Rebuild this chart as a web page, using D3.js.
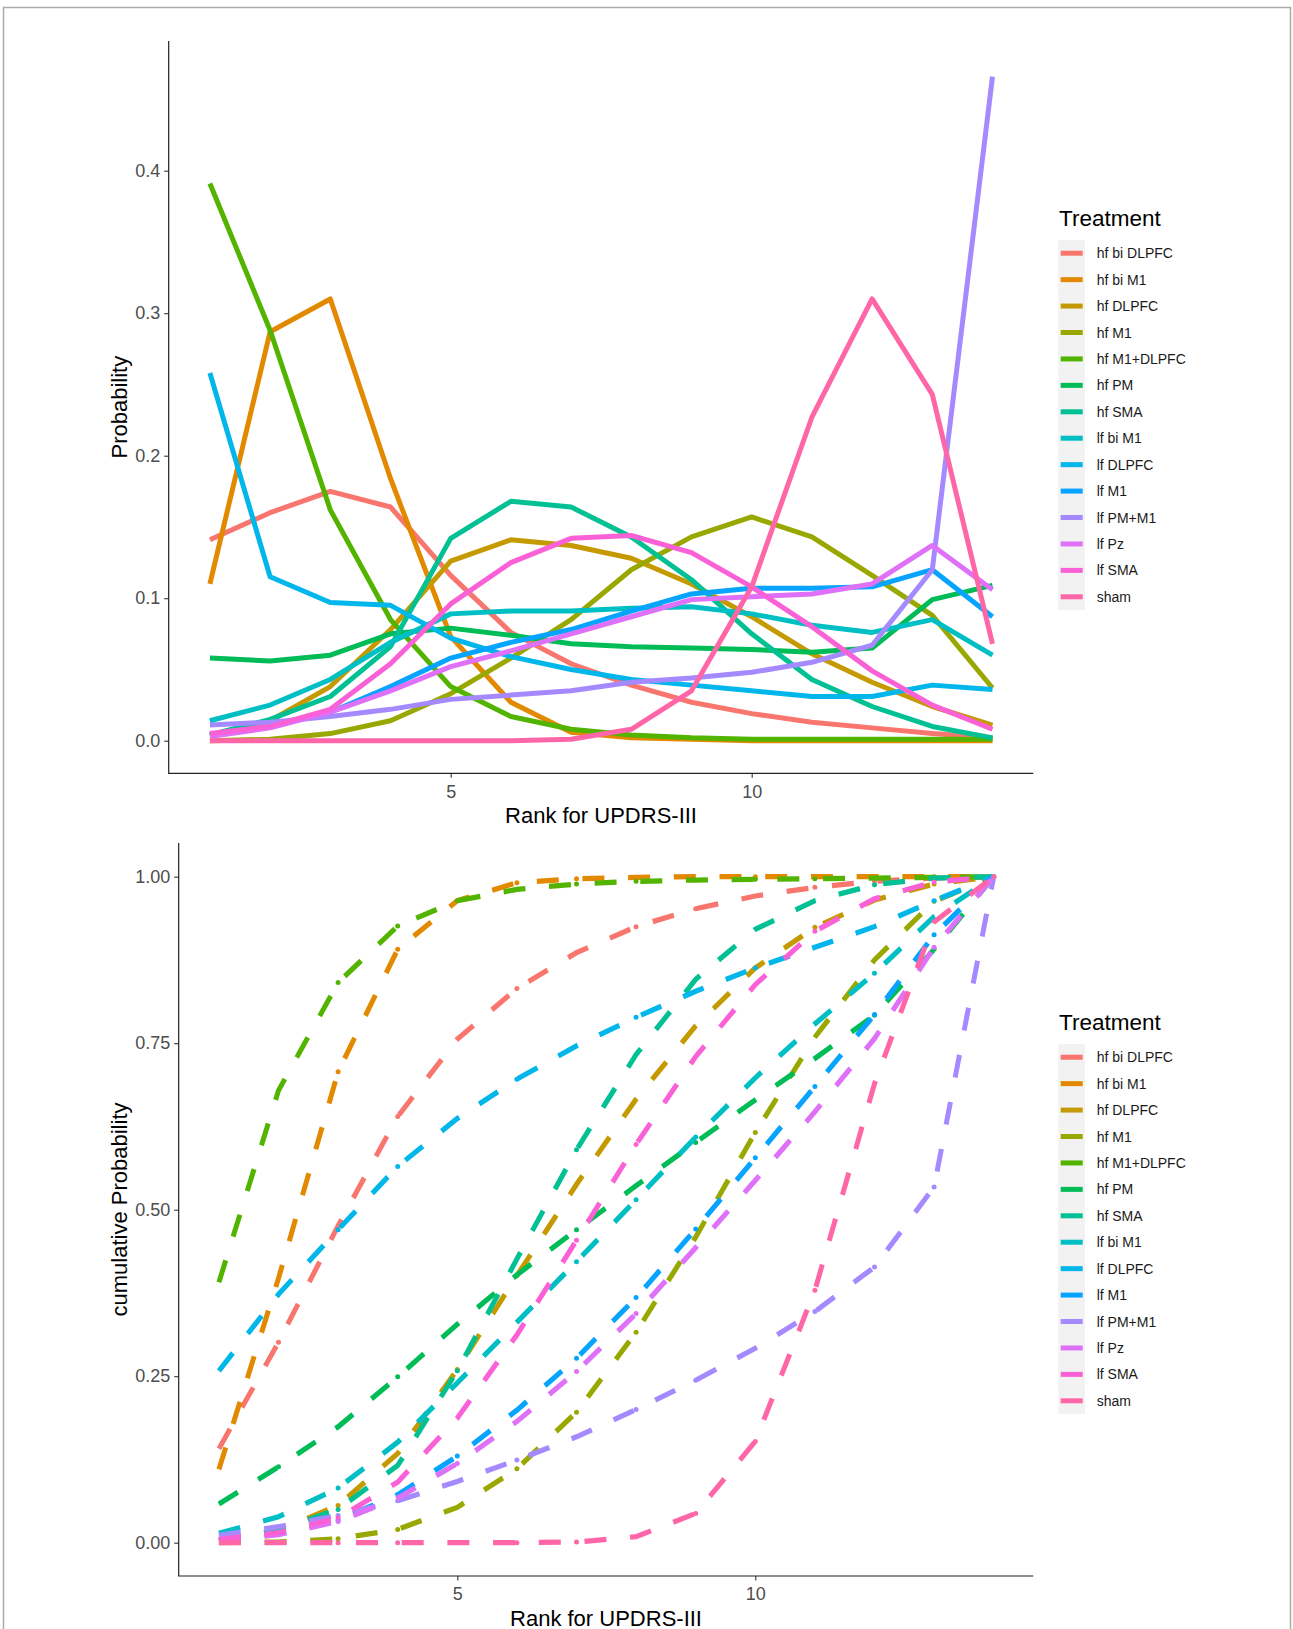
<!DOCTYPE html>
<html>
<head>
<meta charset="utf-8">
<script src="https://cdn.jsdelivr.net/npm/d3@7"></script>
<style>
body { margin: 0; background: #fff; }
text { font-family: "Liberation Sans", Arial, sans-serif; }
</style>
</head>
<body>
<div id="chart"></div>
<script>
//---------------------------DATA--------------------------------//
var ranks = [1, 2, 3, 4, 5, 6, 7, 8, 9, 10, 11, 12, 13, 14];
var treatments = ["hf bi DLPFC", "hf bi M1", "hf DLPFC", "hf M1", "hf M1+DLPFC", "hf PM", "hf SMA",
                  "lf bi M1", "lf DLPFC", "lf M1", "lf PM+M1", "lf Pz", "lf SMA", "sham"];

// probability of each rank
var hfBiDLPFC = [0.141, 0.160, 0.175, 0.164, 0.116, 0.076, 0.054, 0.039, 0.027, 0.019, 0.013, 0.009, 0.005, 0.002];
var hfBiM1    = [0.110, 0.287, 0.310, 0.184, 0.073, 0.027, 0.006, 0.002, 0.001, 0.000, 0.000, 0.000, 0.000, 0.000];
var hfDLPFC   = [0.004, 0.014, 0.038, 0.078, 0.126, 0.141, 0.137, 0.128, 0.110, 0.087, 0.061, 0.041, 0.024, 0.011];
var hfM1      = [0.000, 0.001, 0.005, 0.014, 0.033, 0.058, 0.085, 0.120, 0.143, 0.157, 0.143, 0.116, 0.088, 0.037];
var hfM1DLPFC = [0.391, 0.288, 0.162, 0.085, 0.038, 0.017, 0.008, 0.004, 0.002, 0.001, 0.001, 0.001, 0.001, 0.001];
var hfPM      = [0.058, 0.056, 0.060, 0.075, 0.079, 0.074, 0.068, 0.066, 0.065, 0.064, 0.062, 0.065, 0.099, 0.109];
var hfSMA     = [0.004, 0.015, 0.031, 0.066, 0.142, 0.168, 0.164, 0.143, 0.113, 0.075, 0.043, 0.024, 0.010, 0.002];
var lfBiM1    = [0.014, 0.025, 0.043, 0.069, 0.089, 0.091, 0.091, 0.093, 0.094, 0.089, 0.081, 0.076, 0.085, 0.060];
var lfDLPFC   = [0.258, 0.115, 0.097, 0.095, 0.072, 0.059, 0.050, 0.043, 0.039, 0.035, 0.031, 0.031, 0.039, 0.036];
var lfM1      = [0.004, 0.010, 0.020, 0.038, 0.058, 0.069, 0.078, 0.091, 0.103, 0.107, 0.107, 0.108, 0.120, 0.087];
var lfPMM1    = [0.011, 0.013, 0.017, 0.022, 0.029, 0.032, 0.035, 0.041, 0.044, 0.048, 0.055, 0.067, 0.120, 0.466];
var lfPz      = [0.003, 0.009, 0.020, 0.035, 0.052, 0.063, 0.075, 0.087, 0.099, 0.101, 0.103, 0.110, 0.137, 0.106];
var lfSMA     = [0.005, 0.010, 0.022, 0.054, 0.096, 0.125, 0.142, 0.144, 0.132, 0.108, 0.080, 0.049, 0.025, 0.008];
var sham      = [0.000, 0.000, 0.000, 0.000, 0.000, 0.000, 0.001, 0.008, 0.035, 0.108, 0.227, 0.310, 0.243, 0.068];

// cumulative probability
var cumHfBiDLPFC = [0.141, 0.301, 0.476, 0.640, 0.756, 0.832, 0.886, 0.925, 0.952, 0.971, 0.984, 0.993, 0.998, 1.000];
var cumHfBiM1    = [0.110, 0.397, 0.707, 0.891, 0.964, 0.991, 0.997, 0.999, 1.000, 1.000, 1.000, 1.000, 1.000, 1.000];
var cumHfDLPFC   = [0.004, 0.018, 0.056, 0.134, 0.260, 0.401, 0.538, 0.666, 0.776, 0.863, 0.924, 0.965, 0.989, 1.000];
var cumHfM1      = [0.000, 0.001, 0.006, 0.020, 0.053, 0.111, 0.196, 0.316, 0.459, 0.616, 0.759, 0.875, 0.963, 1.000];
var cumHfM1DLPFC = [0.391, 0.679, 0.841, 0.926, 0.964, 0.981, 0.989, 0.993, 0.995, 0.996, 0.997, 0.998, 0.999, 1.000];
var cumHfPM      = [0.058, 0.114, 0.174, 0.249, 0.328, 0.402, 0.470, 0.536, 0.601, 0.665, 0.727, 0.792, 0.891, 1.000];
var cumHfSMA     = [0.004, 0.019, 0.050, 0.116, 0.258, 0.426, 0.590, 0.733, 0.846, 0.921, 0.964, 0.988, 0.998, 1.000];
var cumLfBiM1    = [0.014, 0.039, 0.082, 0.151, 0.240, 0.331, 0.422, 0.515, 0.609, 0.698, 0.779, 0.855, 0.940, 1.000];
var cumLfDLPFC   = [0.258, 0.373, 0.470, 0.565, 0.637, 0.696, 0.746, 0.789, 0.828, 0.863, 0.894, 0.925, 0.964, 1.000];
var cumLfM1      = [0.004, 0.014, 0.034, 0.072, 0.130, 0.199, 0.277, 0.368, 0.471, 0.578, 0.685, 0.793, 0.913, 1.000];
var cumLfPMM1    = [0.011, 0.024, 0.041, 0.063, 0.092, 0.124, 0.159, 0.200, 0.244, 0.292, 0.347, 0.414, 0.534, 1.000];
var cumLfPz      = [0.003, 0.012, 0.032, 0.067, 0.119, 0.182, 0.257, 0.344, 0.443, 0.544, 0.647, 0.757, 0.894, 1.000];
var cumLfSMA     = [0.005, 0.015, 0.037, 0.091, 0.187, 0.312, 0.454, 0.598, 0.730, 0.838, 0.918, 0.967, 0.992, 1.000];
var cumSham      = [0.000, 0.000, 0.000, 0.000, 0.000, 0.000, 0.001, 0.009, 0.044, 0.152, 0.379, 0.689, 0.932, 1.000];

var xTicks = [5, 10];
var yTicksTop = [0, 0.1, 0.2, 0.3, 0.4];
var yTicksBottom = [0, 0.25, 0.5, 0.75, 1];

var probs = [hfBiDLPFC, hfBiM1, hfDLPFC, hfM1, hfM1DLPFC, hfPM, hfSMA, lfBiM1, lfDLPFC, lfM1, lfPMM1, lfPz, lfSMA, sham];
var cums = [cumHfBiDLPFC, cumHfBiM1, cumHfDLPFC, cumHfM1, cumHfM1DLPFC, cumHfPM, cumHfSMA,
            cumLfBiM1, cumLfDLPFC, cumLfM1, cumLfPMM1, cumLfPz, cumLfSMA, cumSham];

//--------------------------COLOURS------------------------------//
// ggplot's default hue palette (polar LUV, c = 100, l = 65)
function hueColour(h) {
    var L = 65, C = 100, hr = h * Math.PI / 180;
    var U = C * Math.cos(hr), V = C * Math.sin(hr);
    var Y = Math.pow((L + 16) / 116, 3);
    var u = U / (13 * L) + 0.1978398;
    var v = V / (13 * L) + 0.4683363;
    var X = 9 * Y * u / (4 * v);
    var Z = -X / 3 - 5 * Y + 3 * Y / v;
    function gam(t) { return t > 0.00304 ? 1.055 * Math.pow(t, 1 / 2.4) - 0.055 : 12.92 * t; }
    function clamp(t) { return Math.max(0, Math.min(1, t)) * 255; }
    var r = gam( 3.240479 * X - 1.537150 * Y - 0.498535 * Z);
    var g = gam(-0.969256 * X + 1.875992 * Y + 0.041556 * Z);
    var b = gam( 0.055648 * X - 0.204043 * Y + 1.057311 * Z);
    return d3.rgb(clamp(r), clamp(g), clamp(b)).formatHex();
}
var colours = treatments.map(function(t, i) { return hueColour(15 + i * 360 / treatments.length); });

//---------------------------SVG---------------------------------//
const width = 1293;
const height = 1629;
const svg = d3.select("#chart").append("svg")
    .attr("width", width)
    .attr("height", height);

svg.append("rect")
    .attr("x", 3.5).attr("y", 7.5)
    .attr("width", 1287).attr("height", 1700)
    .attr("fill", "#fff")
    .attr("stroke", "#ababab")
    .attr("stroke-width", 1.5);

const lineWidth = 5;

//----------------------------SCALES-----------------------------//
var topBox = {left: 168.7, right: 1033.3, top: 41, bottom: 773.3};
var botBox = {left: 178.7, right: 1033.3, top: 843, bottom: 1576};

var xTop = d3.scaleLinear().domain([1, 14]).range([209.9, 992.5]);
var yTop = d3.scaleLinear().domain([0, 0.4]).range([740.7, 170.7]);
var xBot = d3.scaleLinear().domain([1, 14]).range([218.9, 993.7]);
var yBot = d3.scaleLinear().domain([0, 1]).range([1542.7, 876.7]);

//-----------------------------AXES------------------------------//
function drawAxes(box, x, y, yTicks, yFormat, yTitle) {
    var gx = svg.append("g")
        .attr("transform", "translate(0," + box.bottom + ")")
        .call(d3.axisBottom(x).tickValues(xTicks).tickFormat(d3.format("d")).tickSize(4.5).tickPadding(7));
    var gy = svg.append("g")
        .attr("transform", "translate(" + box.left + ",0)")
        .call(d3.axisLeft(y).tickValues(yTicks).tickFormat(yFormat).tickSize(4.5).tickPadding(4));
    [gx, gy].forEach(function(g) {
        g.select(".domain").remove();
        g.selectAll(".tick line").attr("stroke", "#333").attr("stroke-width", 1.1);
        g.selectAll(".tick text")
            .attr("fill", "#4d4d4d")
            .style("font-size", "18px")
            .style("font-family", "'Liberation Sans', Arial, sans-serif");
    });

    svg.append("path")
        .attr("fill", "none")
        .attr("stroke", "#222")
        .attr("stroke-width", 1.2)
        .attr("d", "M" + box.left + "," + box.top + "V" + box.bottom + "H" + box.right);

    svg.append("text")
        .attr("x", (box.left + box.right) / 2)
        .attr("y", box.bottom + 50)
        .attr("text-anchor", "middle")
        .style("font-size", "22px")
        .text("Rank for UPDRS-III");

    svg.append("text")
        .attr("transform", "translate(127," + (box.top + box.bottom) / 2 + ") rotate(-90)")
        .attr("text-anchor", "middle")
        .style("font-size", "22px")
        .text(yTitle);
}

//----------------------------LEGEND-----------------------------//
function drawLegend(titleY) {
    var g = svg.append("g");
    g.append("text")
        .attr("x", 1059)
        .attr("y", titleY)
        .style("font-size", "22.5px")
        .text("Treatment");
    var top = titleY + 14;
    var step = 26.43;
    g.append("rect")
        .attr("x", 1058.3).attr("y", top)
        .attr("width", 26.7).attr("height", step * treatments.length)
        .attr("fill", "#f2f2f2");
    treatments.forEach(function(t, i) {
        var cy = top + step / 2 + i * step;
        g.append("line")
            .attr("x1", 1060.7).attr("x2", 1082.7)
            .attr("y1", cy).attr("y2", cy)
            .attr("stroke", colours[i])
            .attr("stroke-width", lineWidth);
        g.append("text")
            .attr("x", 1096.7)
            .attr("y", cy + 5)
            .attr("fill", "#1a1a1a")
            .style("font-size", "14px")
            .text(t);
    });
}

//------------------------TOP: PROBABILITY-----------------------//
drawAxes(topBox, xTop, yTop, yTicksTop, d3.format(".1f"), "Probability");

var lineTop = d3.line()
    .x(function(d, j) { return xTop(ranks[j]); })
    .y(function(d) { return yTop(d); });

probs.forEach(function(vals, i) {
    svg.append("path")
        .attr("fill", "none")
        .attr("stroke", colours[i])
        .attr("stroke-width", lineWidth)
        .attr("stroke-linejoin", "round")
        .attr("d", lineTop(vals));
});

drawLegend(226);

//--------------------BOTTOM: CUMULATIVE-------------------------//
drawAxes(botBox, xBot, yBot, yTicksBottom, d3.format(".2f"), "cumulative Probability");

// the exported figure is stretched a little vertically, so dashes are
// laid out in the unstretched space and then scaled back up
const K = 1.05;
const DASH = 22, GAP = 23.7;

var lineBot = d3.line()
    .x(function(d, j) { return xBot(ranks[j]); })
    .y(function(d) { return yBot(d) / K; });

cums.forEach(function(vals, i) {
    var g = svg.append("g");
    g.append("g")
        .attr("transform", "scale(1," + K + ")")
        .append("path")
        .attr("fill", "none")
        .attr("stroke", colours[i])
        .attr("stroke-width", lineWidth)
        .attr("stroke-dasharray", DASH + "," + GAP)
        .attr("d", lineBot(vals));

    // the device leaves a small blob at each vertex that falls in a gap
    var len = 0;
    vals.forEach(function(v, j) {
        if (j == 0) return;
        len += Math.hypot(xBot(ranks[j]) - xBot(ranks[j - 1]), (yBot(v) - yBot(vals[j - 1])) / K);
        if (len % (DASH + GAP) > DASH) {
            g.append("circle")
                .attr("cx", xBot(ranks[j]))
                .attr("cy", yBot(v))
                .attr("r", 2.5)
                .attr("fill", colours[i]);
        }
    });
});

drawLegend(1030);
</script>
</body>
</html>
